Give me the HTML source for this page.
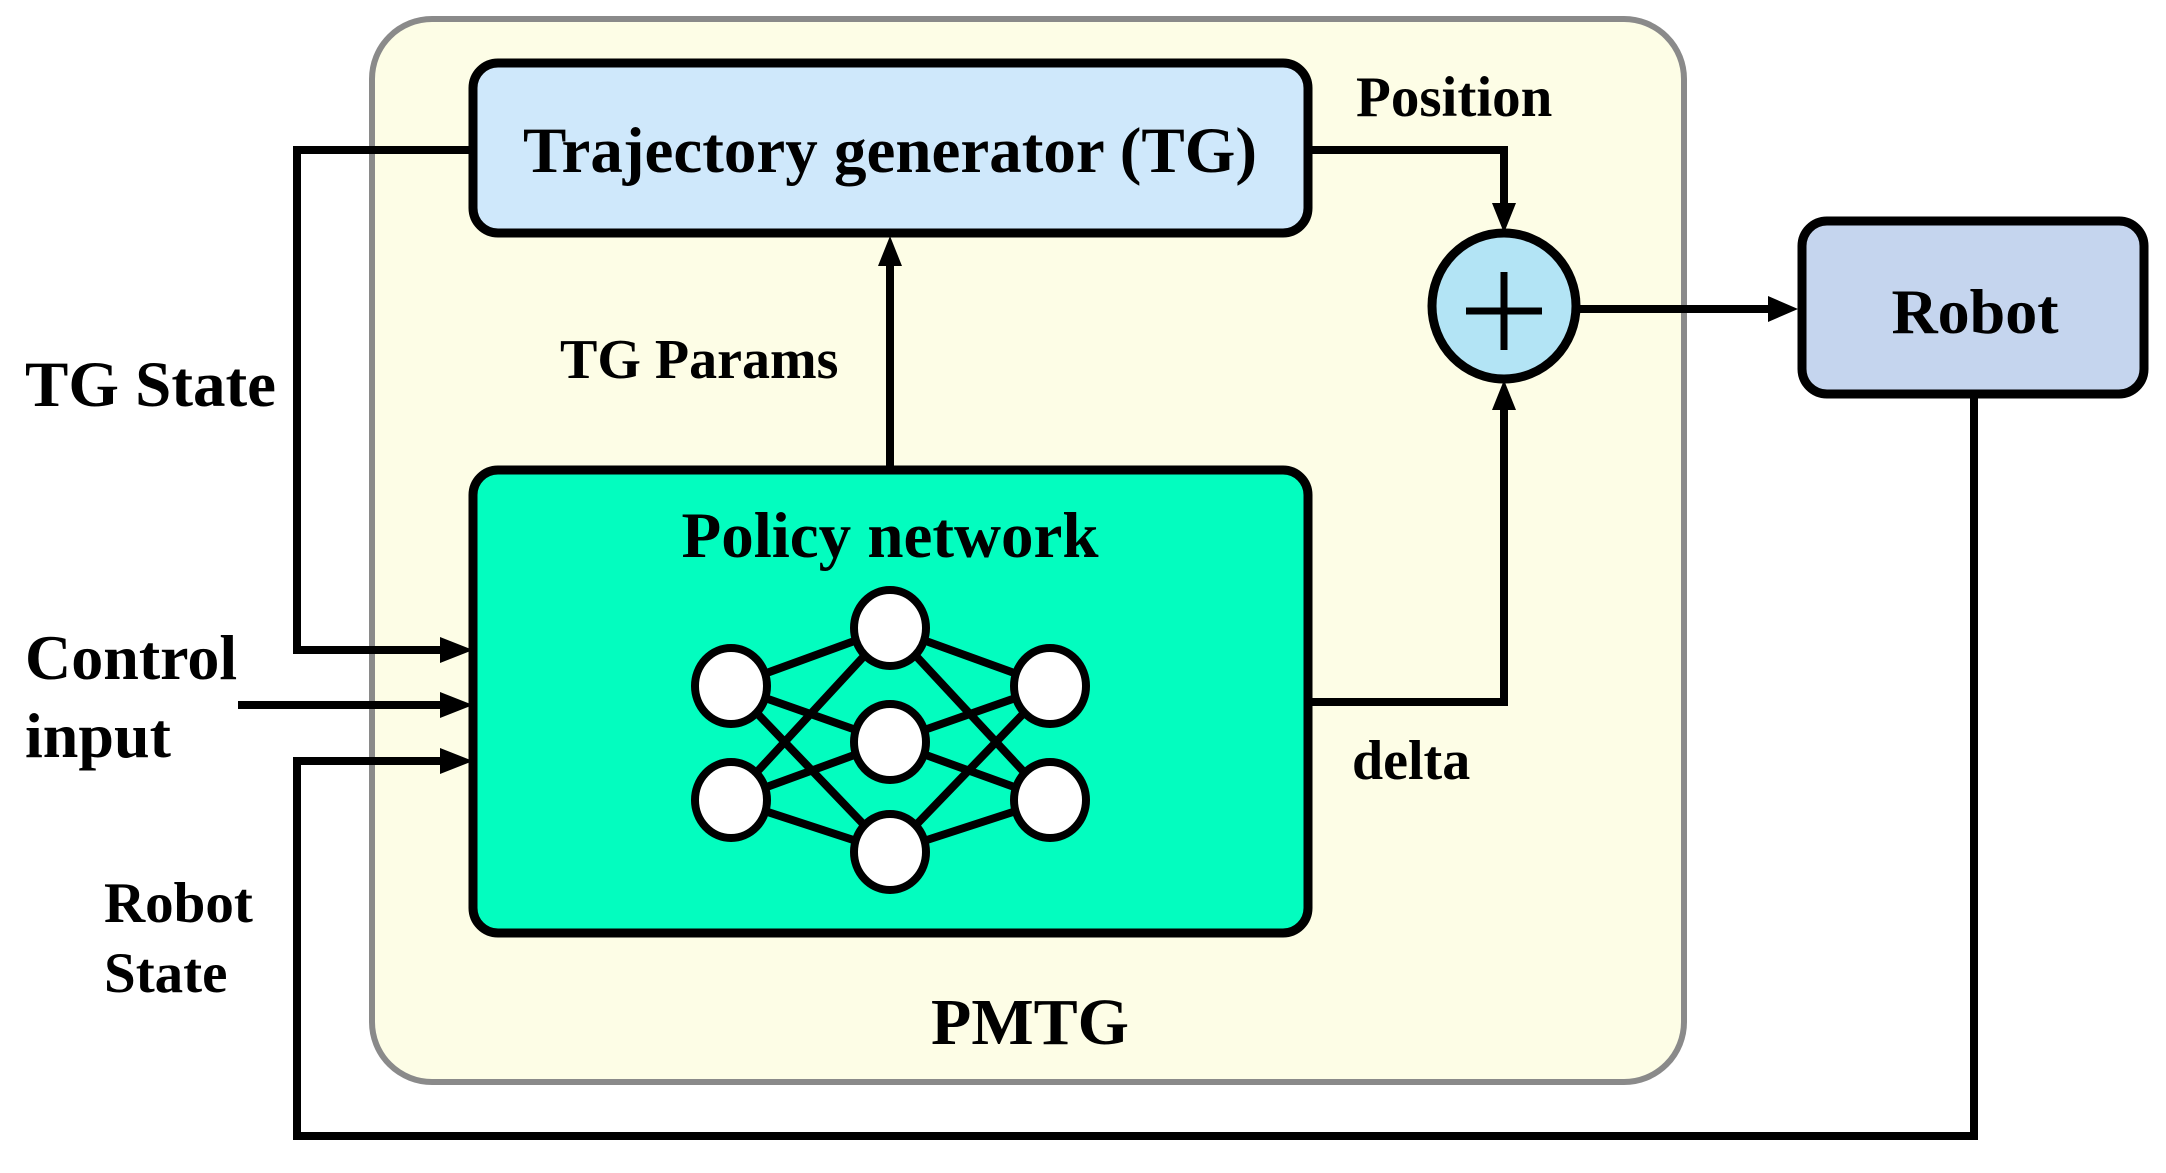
<!DOCTYPE html>
<html><head><meta charset="utf-8"><style>
html,body{margin:0;padding:0;background:#fff;}
svg{display:block;}
text{font-family:"Liberation Serif",serif;font-weight:bold;fill:#000;}
</style></head><body>
<svg width="2166" height="1173" viewBox="0 0 2166 1173" xmlns="http://www.w3.org/2000/svg">
<!-- PMTG outer -->
<rect x="372" y="19" width="1312" height="1063" rx="60" fill="#fdfde6" stroke="#8a8a8a" stroke-width="6"/>
<!-- TG box -->
<rect x="473" y="63" width="835" height="170" rx="25" fill="#cfe8fb" stroke="#000" stroke-width="9"/>
<text x="890" y="172" font-size="65" text-anchor="middle">Trajectory generator (TG)</text>
<!-- Policy box -->
<rect x="473" y="470" width="835" height="463" rx="25" fill="#03fdbf" stroke="#000" stroke-width="9"/>
<text x="890" y="557" font-size="65" text-anchor="middle">Policy network</text>
<!-- NN edges -->
<g stroke="#000" stroke-width="8">
<line x1="731" y1="686" x2="890" y2="628"/><line x1="731" y1="686" x2="890" y2="742"/><line x1="731" y1="686" x2="890" y2="852"/>
<line x1="731" y1="800" x2="890" y2="628"/><line x1="731" y1="800" x2="890" y2="742"/><line x1="731" y1="800" x2="890" y2="852"/>
<line x1="1050" y1="686" x2="890" y2="628"/><line x1="1050" y1="686" x2="890" y2="742"/><line x1="1050" y1="686" x2="890" y2="852"/>
<line x1="1050" y1="800" x2="890" y2="628"/><line x1="1050" y1="800" x2="890" y2="742"/><line x1="1050" y1="800" x2="890" y2="852"/>
</g>
<g fill="#fff" stroke="#000" stroke-width="8">
<ellipse cx="731" cy="686" rx="36" ry="38"/><ellipse cx="731" cy="800" rx="36" ry="38"/>
<ellipse cx="890" cy="628" rx="36" ry="38"/><ellipse cx="890" cy="742" rx="36" ry="38"/><ellipse cx="890" cy="852" rx="36" ry="38"/>
<ellipse cx="1050" cy="686" rx="36" ry="38"/><ellipse cx="1050" cy="800" rx="36" ry="38"/>
</g>
<!-- lines -->
<g stroke="#000" stroke-width="8" fill="none">
<polyline points="890,470 890,262"/>
<polyline points="1308,150 1504,150 1504,205"/>
<polyline points="1308,702 1504,702 1504,408"/>
<polyline points="1577,309 1770,309"/>
<polyline points="473,150 297,150 297,650 440,650"/>
<polyline points="238,705 440,705"/>
<polyline points="1974,396 1974,1136 297,1136 297,761 440,761"/>
</g>
<!-- arrowheads -->
<g fill="#000">
<polygon points="890,236 878,266 902,266"/>
<polygon points="1504,233 1492,203 1516,203"/>
<polygon points="1504,380 1492,410 1516,410"/>
<polygon points="1798,309 1768,296 1768,322"/>
<polygon points="473,650 440,637 440,663"/>
<polygon points="473,705 440,692 440,718"/>
<polygon points="473,761 440,748 440,774"/>
</g>
<!-- sum -->
<ellipse cx="1504" cy="306" rx="72" ry="73" fill="#b3e4f5" stroke="#000" stroke-width="9"/>
<g stroke="#000" stroke-width="7"><line x1="1466" y1="311" x2="1542" y2="311"/><line x1="1504" y1="272" x2="1504" y2="350"/></g>
<!-- Robot -->
<rect x="1802" y="221" width="342" height="173" rx="25" fill="#c5d5ee" stroke="#000" stroke-width="9"/>
<text x="1975" y="333" font-size="64" text-anchor="middle">Robot</text>
<!-- labels -->
<text x="1356" y="116" font-size="57">Position</text>
<text x="560" y="378" font-size="56">TG Params</text>
<text x="25" y="406" font-size="65">TG State</text>
<text x="25" y="679" font-size="64">Control</text>
<text x="25" y="757" font-size="64">input</text>
<text x="104" y="922" font-size="57">Robot</text>
<text x="104" y="992" font-size="57">State</text>
<text x="1352" y="779" font-size="56">delta</text>
<text x="1030" y="1044" font-size="66" text-anchor="middle">PMTG</text>
</svg>
</body></html>
